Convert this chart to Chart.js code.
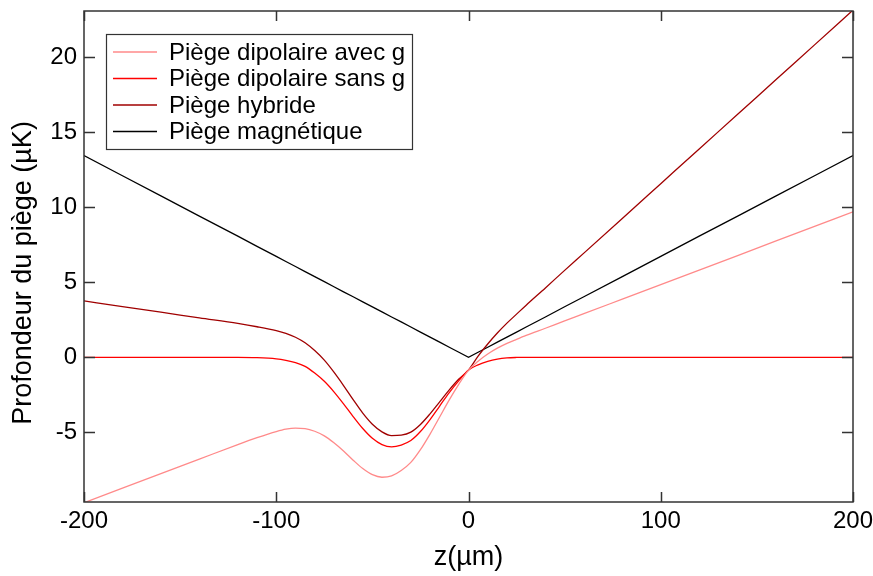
<!DOCTYPE html>
<html>
<head>
<meta charset="utf-8">
<script src="https://cdn.jsdelivr.net/npm/chart.js@4.4.0/dist/chart.umd.min.js"></script>
<style>
    html, body { margin: 0; padding: 0; background: #fff; }
</style>
</head>
<body>
<canvas id="chart" width="873" height="576"></canvas>
<script>
// z positions (µm) shared by all curves
const zValues = [-200, -180, -160, -140, -120, -110, -100, -95, -90, -85, -80, -75, -70, -65, -60, -55, -50, -45,
    -40, -35, -30, -25, -20, -15, -10, -5, 0, 5, 10, 15, 20, 25, 30, 40, 50, 60, 80, 100, 120, 140, 160, 180, 200];

const dipoleWithG = [-9.7, -8.73, -7.76, -6.79, -5.82, -5.36, -4.95, -4.79, -4.72, -4.75, -4.93, -5.24, -5.7, -6.25,
    -6.86, -7.42, -7.83, -8.0, -7.91, -7.55, -7.01, -6.16, -5.12, -3.98, -2.84, -1.79, -0.85, -0.26, 0.22, 0.61, 0.93,
    1.2, 1.46, 1.94, 2.43, 2.91, 3.88, 4.85, 5.82, 6.79, 7.76, 8.73, 9.7];

const dipoleNoG = [0, 0, 0, 0, 0, -0.02, -0.1, -0.2, -0.35, -0.6, -1.05, -1.6, -2.3, -3.1, -3.95, -4.75, -5.4, -5.82,
    -5.97, -5.85, -5.55, -4.95, -4.15, -3.25, -2.35, -1.55, -0.85, -0.5, -0.27, -0.12, -0.04, -0.01, 0, 0, 0, 0,
    0, 0, 0, 0, 0, 0, 0];

const hybrid = [3.76, 3.38, 3.01, 2.63, 2.26, 2.04, 1.78, 1.6, 1.34, 0.97, 0.45, -0.19, -0.99, -1.88, -2.82, -3.72,
    -4.46, -4.97, -5.22, -5.19, -4.99, -4.48, -3.77, -2.97, -2.17, -1.45, -0.85, 0.08, 0.89, 1.62, 2.28, 2.88, 3.48,
    4.63, 5.8, 6.95, 9.26, 11.58, 13.9, 16.21, 18.53, 20.84, 23.16];

const magnetic = [13.46, 12.11, 10.77, 9.42, 8.08, 7.4, 6.73, 6.39, 6.06, 5.72, 5.38, 5.05, 4.71, 4.37, 4.04, 3.7,
    3.37, 3.03, 2.69, 2.36, 2.02, 1.68, 1.35, 1.01, 0.67, 0.34, 0, 0.34, 0.67, 1.01, 1.35, 1.68, 2.02, 2.69, 3.37,
    4.04, 5.38, 6.73, 8.08, 9.42, 10.77, 12.11, 13.46];

const seriesLabels = ['Piège dipolaire avec g', 'Piège dipolaire sans g', 'Piège hybride', 'Piège magnétique'];
const xTicks = [-200, -100, 0, 100, 200];
const yTicks = [-5, 0, 5, 10, 15, 20];
const xTitle = 'z(µm)';
const yTitle = 'Profondeur du piège (µK)';

const FONT = '"Liberation Sans", Arial, sans-serif';

const toPoints = (ys) => ys.map((v, i) => ({x: zValues[i], y: v}));

// frame on 4 sides with inward ticks + rotated y title
const framePlugin = {
    id: 'frame',
    afterDatasetsDraw(chart) {
        const {ctx, chartArea: a, scales: {x, y}} = chart;
        ctx.save();
        ctx.strokeStyle = '#333';
        ctx.lineWidth = 1.5;
        ctx.strokeRect(a.left, a.top, a.right - a.left, a.bottom - a.top);
        ctx.beginPath();
        x.ticks.forEach(t => {
            const px = Math.round(x.getPixelForValue(t.value)) + 0.5;
            ctx.moveTo(px, a.bottom);
            ctx.lineTo(px, a.bottom - 10);
            ctx.moveTo(px, a.top);
            ctx.lineTo(px, a.top + 10);
        });
        y.ticks.forEach(t => {
            const py = Math.round(y.getPixelForValue(t.value)) + 0.5;
            ctx.moveTo(a.left, py);
            ctx.lineTo(a.left + 11, py);
            ctx.moveTo(a.right, py);
            ctx.lineTo(a.right - 11, py);
        });
        ctx.stroke();

        ctx.translate(24, 273);
        ctx.rotate(-Math.PI / 2);
        ctx.font = '27px ' + FONT;
        ctx.fillStyle = '#000';
        ctx.textAlign = 'center';
        ctx.textBaseline = 'middle';
        ctx.fillText(yTitle, 0, 0);
        ctx.restore();
    }
};

// boxed legend inside the plot, top left
const boxLegend = {
    id: 'boxLegend',
    afterDraw(chart) {
        const ctx = chart.ctx;
        const left = 106, top = 34, w = 306, h = 115;
        ctx.save();
        ctx.fillStyle = '#fff';
        ctx.fillRect(left, top, w, h);
        ctx.strokeStyle = '#333';
        ctx.lineWidth = 1.2;
        ctx.strokeRect(left + 0.5, top + 0.5, w, h);
        ctx.font = '24px ' + FONT;
        ctx.textBaseline = 'middle';
        chart.data.datasets.forEach((ds, i) => {
            const yy = 52 + i * 26.5;
            ctx.strokeStyle = ds.borderColor;
            ctx.lineWidth = 1.3;
            ctx.beginPath();
            ctx.moveTo(113, yy);
            ctx.lineTo(157, yy);
            ctx.stroke();
            ctx.fillStyle = '#000';
            ctx.fillText(ds.label, 169, yy + 1);
        });
        ctx.restore();
    }
};

const colors = ['#ff8a8a', '#ff0000', '#a00000', '#000000'];
const series = [dipoleWithG, dipoleNoG, hybrid, magnetic];

new Chart(document.getElementById('chart'), {
    type: 'line',
    data: {
        datasets: series.map((s, i) => ({
            label: seriesLabels[i],
            data: toPoints(s),
            borderColor: colors[i],
            borderWidth: 1.3,
            pointRadius: 0,
            fill: false,
            tension: i === 3 ? 0 : 0.4,
            cubicInterpolationMode: i === 3 ? 'default' : 'monotone',
        })),
    },
    options: {
        responsive: false,
        animation: false,
        devicePixelRatio: 1,
        layout: {padding: {top: 11, right: 20, left: 0, bottom: 0}},
        plugins: {
            legend: {display: false},
            tooltip: {enabled: false},
        },
        scales: {
            x: {
                type: 'linear',
                min: -200,
                max: 200,
                afterBuildTicks: s => { s.ticks = xTicks.map(v => ({value: v})); },
                afterFit: s => {
                    s.height = 74;
                    s.paddingLeft = 0;
                    s.paddingRight = 0;
                },
                grid: {display: false, drawTicks: false},
                border: {display: false},
                ticks: {
                    color: '#000',
                    padding: 5,
                    maxRotation: 0,
                    font: {family: FONT, size: 24},
                },
                title: {
                    display: true,
                    text: xTitle,
                    color: '#000',
                    font: {family: FONT, size: 27},
                    padding: {top: 0, bottom: 2},
                },
            },
            y: {
                type: 'linear',
                min: -9.65,
                max: 23.1,
                afterBuildTicks: s => { s.ticks = yTicks.map(v => ({value: v})); },
                afterFit: s => {
                    s.width = 84;
                    s.paddingTop = 0;
                    s.paddingBottom = 0;
                },
                grid: {display: false, drawTicks: false},
                border: {display: false},
                ticks: {
                    color: '#000',
                    padding: 7,
                    font: {family: FONT, size: 24},
                },
            },
        },
    },
    plugins: [framePlugin, boxLegend],
});
</script>
</body>
</html>
